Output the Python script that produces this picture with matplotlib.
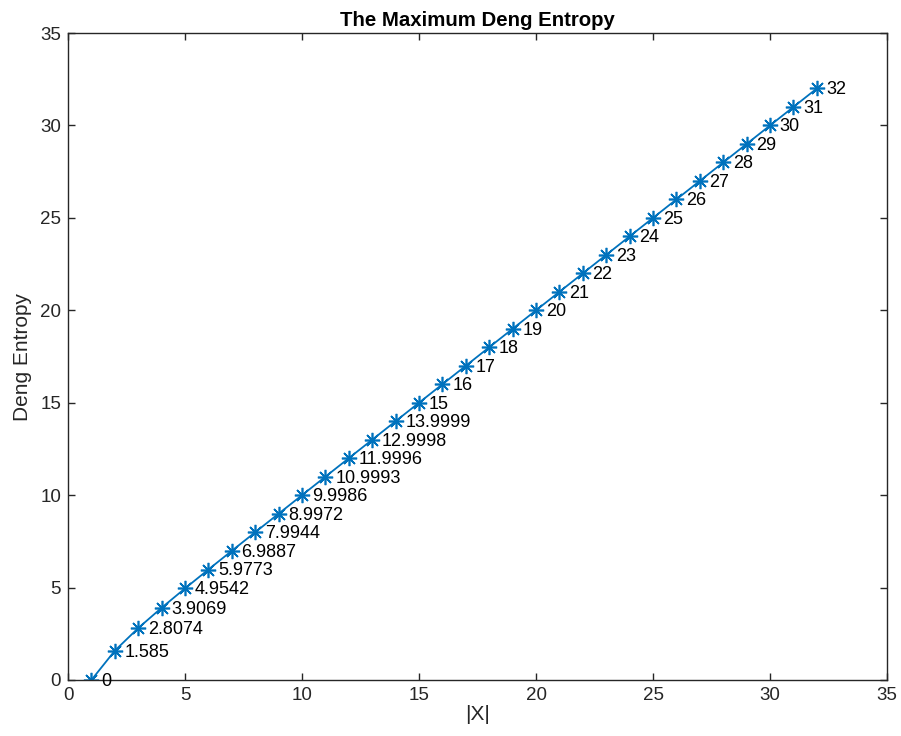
import numpy as np
import matplotlib
matplotlib.use("Agg")
import matplotlib.pyplot as plt

plt.rcParams['font.family'] = ['Liberation Sans', 'DejaVu Sans']

x = np.arange(1, 33)
entropy = [0, 1.585, 2.8074, 3.9069, 4.9542, 5.9773, 6.9887, 7.9944, 8.9972,
           9.9986, 10.9993, 11.9996, 12.9998, 13.9999, 15, 16, 17, 18, 19, 20,
           21, 22, 23, 24, 25, 26, 27, 28, 29, 30, 31, 32]
labels = ['0', '1.585', '2.8074', '3.9069', '4.9542', '5.9773', '6.9887',
          '7.9944', '8.9972', '9.9986', '10.9993', '11.9996', '12.9998',
          '13.9999', '15', '16', '17', '18', '19', '20', '21', '22', '23',
          '24', '25', '26', '27', '28', '29', '30', '31', '32']

blue = '#0072BD'
dark = '#262626'

fig = plt.figure(figsize=(9.01, 7.36), dpi=100)
ax = fig.add_axes([0.0755, 0.0761, 0.909, 0.879])

ax.plot(x, entropy, color=blue, lw=1.3, marker=(8, 2, 0), markersize=11,
        markeredgewidth=1.2)

# value labels next to each point
for xi, yi, lab in zip(x, entropy, labels):
    ax.annotate(lab, (xi, yi), xytext=(7, -1), textcoords='offset points',
                ha='left', va='center', fontsize=13)

ax.set_xlim(0, 35)
ax.set_ylim(0, 35)
ax.set_xticks(np.arange(0, 36, 5))
ax.set_yticks(np.arange(0, 36, 5))
ax.tick_params(direction='in', top=True, right=True, length=5, width=1,
               labelsize=13.5, colors=dark, pad=5)
for s in ax.spines.values():
    s.set_color(dark)
    s.set_linewidth(1)

ax.set_xlabel('|X|', fontsize=15, color=dark, labelpad=1)
ax.set_ylabel('Deng Entropy', fontsize=15, color=dark, labelpad=6)
ax.set_title('The Maximum Deng Entropy', fontsize=14.7, fontweight='bold', pad=5)

fig.savefig('out.png', dpi=100)
